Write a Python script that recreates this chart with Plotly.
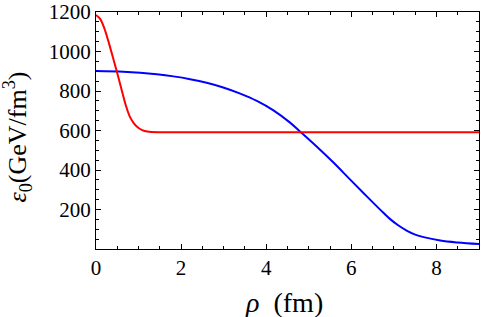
import plotly.graph_objects as go

# red curve
red_x = [0, 0.1, 0.2, 0.3, 0.4, 0.5, 0.6, 0.7, 0.8, 0.9, 1.0, 1.1, 1.2, 1.3, 1.5, 2, 3, 4, 5, 6, 7, 8, 9]
red_y = [1185, 1164, 1115, 1045, 968, 890, 808, 728, 668, 634, 613, 601, 595, 592, 591, 591, 591, 591, 591, 591, 591, 591, 591]

# blue curve
blue_x = [0, 0.64, 1.04, 1.43, 1.82, 2.21, 2.6, 2.99, 3.39, 3.78, 4.17, 4.56, 4.8, 5.19, 5.58, 5.98,
          6.37, 6.76, 6.92, 7.1, 7.31, 7.5, 7.7, 8.09, 8.5, 9]
blue_y = [901, 898, 893, 885, 874, 860, 842, 818, 787, 750, 702, 640, 594, 518, 438, 350,
          265, 182, 150, 120, 92, 73, 60, 43, 33, 25]

x_ticks = [0, 2, 4, 6, 8]
y_ticks = [200, 400, 600, 800, 1000, 1200]

fig = go.Figure()
fig.add_trace(go.Scatter(x=blue_x, y=blue_y, mode="lines",
                         line=dict(color="#0000ff", width=2, shape="spline")))
fig.add_trace(go.Scatter(x=red_x, y=red_y, mode="lines",
                         line=dict(color="#ff0000", width=2, shape="spline")))

font_family = "Liberation Serif"
axis_common = dict(showline=True, linecolor="black", linewidth=1, mirror="allticks",
                   ticks="inside", ticklen=5, tickcolor="black", tickwidth=1,
                   showgrid=False, zeroline=False, automargin=False,
                   tickfont=dict(family=font_family, size=21, color="black"))

fig.update_xaxes(range=[0, 9], tickvals=x_ticks,
                 minor=dict(ticks="inside", dtick=0.5, ticklen=3, tickcolor="black", showgrid=False),
                 **axis_common)
fig.update_yaxes(range=[0, 1200], tickvals=y_ticks,
                 minor=dict(ticks="inside", dtick=50, ticklen=3, tickcolor="black", showgrid=False),
                 **axis_common)

fig.add_annotation(text="<i>ρ</i>&nbsp;&nbsp;(fm)", xref="paper", yref="paper",
                   x=0.491, y=-0.224, xanchor="center", yanchor="middle", showarrow=False,
                   font=dict(family=font_family, size=28, color="black"))
fig.add_annotation(text="<i>ε</i><sub>0</sub>(GeV/fm<sup>3</sup>)", xref="paper", yref="paper",
                   x=-0.205, y=0.4726, xanchor="center", yanchor="middle", showarrow=False,
                   textangle=-90, font=dict(family=font_family, size=26, color="black"))

fig.update_layout(width=481, height=317, showlegend=False,
                  margin=dict(l=96, r=2, t=12, b=68),
                  plot_bgcolor="white", paper_bgcolor="white")

fig.write_html("out.html", config={"displayModeBar": False},
               post_script="document.body.style.margin='0';document.body.style.overflow='hidden';")
